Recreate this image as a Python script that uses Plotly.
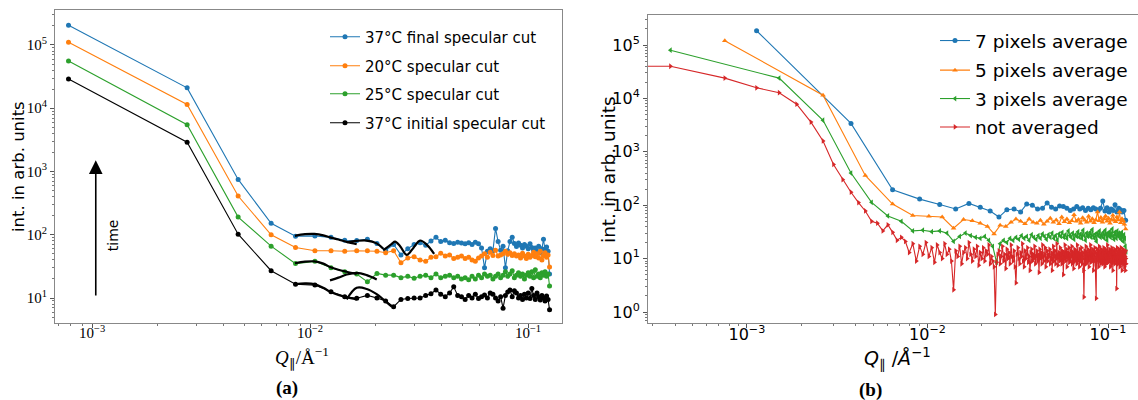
import numpy as np
import plotly.graph_objects as go

W, H = 1138, 400
SERIF = "Liberation Serif"
SANS = "DejaVu Sans"

# ---------------- panel (a) data ----------------
Q_LEFT = [0.00078, 0.00273, 0.00468, 0.00663, 0.00858, 0.01053, 0.01248, 0.01443, 0.01638, 0.01833,
          0.02028, 0.02223, 0.02418, 0.02613, 0.02808, 0.03003, 0.03198, 0.03393, 0.03588, 0.03783,
          0.03978, 0.04173, 0.04368, 0.04563, 0.04758, 0.04953, 0.05148, 0.05343, 0.05538, 0.05733,
          0.05928, 0.06123, 0.06318, 0.06513, 0.06708, 0.06903, 0.07098, 0.07293, 0.07488, 0.07683,
          0.07878, 0.08073, 0.08268, 0.08463, 0.08658, 0.08853, 0.09048, 0.09243, 0.09438, 0.09633,
          0.09828, 0.10023, 0.10218, 0.10413, 0.10608, 0.10803, 0.10998, 0.11193, 0.11388, 0.11583,
          0.11778, 0.11973, 0.12168, 0.12363, 0.12558]

A_FINAL37 = [2.05e5, 2.1e4, 750, 152, 95, 96, 91, 82, 81, 85, 73, 57, 70, 48, 60, 70, 75, 68, 80,
             91, 78, 82, 75, 73, 76, 74, 72, 75, 70, 76, 72, 62, 30, 55, 60, 56, 126, 78, 57,
             66, 30, 56, 78, 91, 73, 65, 74, 68, 62, 70, 66, 60, 72, 63, 57, 62, 55, 66, 52,
             60, 85, 58, 64, 55, 24]
A_20 = [1.1e5, 1.15e4, 410, 100, 63, 56, 56, 55, 56, 56, 55, 52, 56, 36, 43, 45, 40, 38, 44,
        45, 51, 46, 48, 42, 44, 46, 42, 44, 40, 38, 43, 46, 50, 44, 53, 47, 57, 46, 48,
        50, 55, 49, 52, 47, 50, 46, 48, 43, 51, 46, 42, 49, 44, 47, 53, 45, 50, 43, 55,
        40, 47, 52, 44, 48, 31]
A_25 = [5.6e4, 5.5e3, 190, 66, 35, 38, 30, 26, 24, 18, 24.5, 23, 23, 21, 22, 20.5, 22, 23, 21,
        24, 21, 22, 23, 21, 22, 20, 21, 19.5, 22, 20, 23, 21, 24, 22, 23, 20, 22, 24, 21,
        23, 26, 22, 24, 27, 21, 23, 25, 22, 24, 20, 23, 25, 22, 26, 21, 28, 22, 24, 21,
        25, 23, 26, 22, 24, 15.5]
A_INIT37 = [2.9e4, 2.9e3, 102, 27, 16.5, 16, 12.6, 10.5, 9.9, 11, 10, 9, 7.3, 9.5, 9.8, 10, 10, 11, 11.7,
            13.4, 11.5, 10.5, 12, 15, 11, 10.5, 9.5, 11, 10, 11.5, 9.8, 10.5, 11.2, 10, 12, 11.5, 10,
            9, 10.5, 6.9, 11, 12.5, 13.4, 10.5, 13, 12, 10, 11, 9.5, 11.5, 10, 12, 9.8, 14.2, 11,
            9.5, 12, 10.5, 9.3, 11, 10, 9, 10.8, 9.5, 6.5]

A_LABELS = ["37°C final specular cut", "20°C specular cut", "25°C specular cut", "37°C initial specular cut"]

# fitted curves (thick black) in panel (a)
FIT_Q = [
    [0.00853, 0.00948, 0.01047, 0.01151, 0.01235, 0.01349, 0.01473, 0.01637],
    [0.01473, 0.01637, 0.0182, 0.02023, 0.02168],
    [0.02168, 0.02372, 0.02455, 0.0259, 0.0278, 0.0298, 0.03198, 0.0343, 0.0371],
    [0.00853, 0.00948, 0.01047, 0.01151, 0.01235, 0.01349, 0.01473, 0.01637],
    [0.01235, 0.01349, 0.01473, 0.01637, 0.0182, 0.02023],
    [0.00853, 0.00948, 0.01047, 0.01151, 0.01235, 0.01349, 0.01473, 0.01637],
    [0.01473, 0.01637, 0.0182, 0.02023, 0.02168, 0.02372],
]
FIT_I = [
    [96, 102, 103, 98, 91, 84, 77, 71],
    [76, 80, 81, 73, 60],
    [57, 72, 78, 66, 48, 62, 81, 70, 50],
    [35.4, 37.6, 38, 35, 31, 28, 26, 24],
    [19, 21, 23.5, 25, 23, 19.7],
    [16.4, 17, 16.6, 14.5, 12.6, 11.2, 10.3, 9.5],
    [9.5, 14.5, 13.9, 11.5, 9.5, 7.3],
]

ARROW_Q = 1.04e-3
ARROW_FROM = 10.4
ARROW_TO = 1.5e3
TIME_Q = 1.25e-3
TIME_I = 99

# ---------------- panel (b) data ----------------
# detector pixel positions in 1e-3 1/Angstrom (pixel 1..334)
PIXEL_Q_MILLI = [
    0.377, 0.754, 1.131, 1.508, 1.885, 2.262, 2.639, 3.016, 3.393, 3.77,
    4.147, 4.524, 4.901, 5.278, 5.655, 6.032, 6.409, 6.786, 7.163, 7.54,
    7.917, 8.294, 8.671, 9.048, 9.425, 9.802, 10.179, 10.556, 10.933, 11.31,
    11.687, 12.064, 12.441, 12.818, 13.195, 13.572, 13.949, 14.326, 14.703, 15.08,
    15.457, 15.834, 16.211, 16.588, 16.965, 17.342, 17.719, 18.096, 18.473, 18.85,
    19.227, 19.604, 19.981, 20.358, 20.735, 21.112, 21.489, 21.866, 22.243, 22.62,
    22.997, 23.374, 23.751, 24.128, 24.505, 24.882, 25.259, 25.636, 26.013, 26.39,
    26.767, 27.144, 27.521, 27.898, 28.275, 28.652, 29.029, 29.406, 29.783, 30.16,
    30.537, 30.914, 31.291, 31.668, 32.045, 32.422, 32.799, 33.176, 33.553, 33.93,
    34.307, 34.684, 35.061, 35.438, 35.815, 36.192, 36.569, 36.946, 37.323, 37.7,
    38.077, 38.454, 38.831, 39.208, 39.585, 39.962, 40.339, 40.716, 41.093, 41.47,
    41.847, 42.224, 42.601, 42.978, 43.355, 43.732, 44.109, 44.486, 44.863, 45.24,
    45.617, 45.994, 46.371, 46.748, 47.125, 47.502, 47.879, 48.256, 48.633, 49.01,
    49.387, 49.764, 50.141, 50.518, 50.895, 51.272, 51.649, 52.026, 52.403, 52.78,
    53.157, 53.534, 53.911, 54.288, 54.665, 55.042, 55.419, 55.796, 56.173, 56.55,
    56.927, 57.304, 57.681, 58.058, 58.435, 58.812, 59.189, 59.566, 59.943, 60.32,
    60.697, 61.074, 61.451, 61.828, 62.205, 62.582, 62.959, 63.336, 63.713, 64.09,
    64.467, 64.844, 65.221, 65.598, 65.975, 66.352, 66.729, 67.106, 67.483, 67.86,
    68.237, 68.614, 68.991, 69.368, 69.745, 70.122, 70.499, 70.876, 71.253, 71.63,
    72.007, 72.384, 72.761, 73.138, 73.515, 73.892, 74.269, 74.646, 75.023, 75.4,
    75.777, 76.154, 76.531, 76.908, 77.285, 77.662, 78.039, 78.416, 78.793, 79.17,
    79.547, 79.924, 80.301, 80.678, 81.055, 81.432, 81.809, 82.186, 82.563, 82.94,
    83.317, 83.694, 84.071, 84.448, 84.825, 85.202, 85.579, 85.956, 86.333, 86.71,
    87.087, 87.464, 87.841, 88.218, 88.595, 88.972, 89.349, 89.726, 90.103, 90.48,
    90.857, 91.234, 91.611, 91.988, 92.365, 92.742, 93.119, 93.496, 93.873, 94.25,
    94.627, 95.004, 95.381, 95.758, 96.135, 96.512, 96.889, 97.266, 97.643, 98.02,
    98.397, 98.774, 99.151, 99.528, 99.905, 100.282, 100.659, 101.036, 101.413, 101.79,
    102.167, 102.544, 102.921, 103.298, 103.675, 104.052, 104.429, 104.806, 105.183, 105.56,
    105.937, 106.314, 106.691, 107.068, 107.445, 107.822, 108.199, 108.576, 108.953, 109.33,
    109.707, 110.084, 110.461, 110.838, 111.215, 111.592, 111.969, 112.346, 112.723, 113.1,
    113.477, 113.854, 114.231, 114.608, 114.985, 115.362, 115.739, 116.116, 116.493, 116.87,
    117.247, 117.624, 118.001, 118.378, 118.755, 119.132, 119.509, 119.886, 120.263, 120.64,
    121.017, 121.394, 121.771, 122.148, 122.525, 122.902, 123.279, 123.656, 124.033, 124.41,
    124.787, 125.164, 125.541, 125.918]

# pixel 0 (specular, Q->0, lies left of the axis)
RED_Q0 = 1e-4
RED_I0 = 4.0e4

B_NOT_AVG = [
    40000, 24000, 15800, 12800, 7800, 3600, 1600, 580, 300, 175, 112, 78, 50, 46, 33, 43, 31, 22, 25, 21, 13,
    19, 9, 17, 12, 20, 11, 16, 8.5, 18, 13, 10, 19, 12, 15, 9, 2.6, 14, 11, 17, 8, 13, 16, 10, 20,
    12, 9, 15, 11, 17, 7.5, 13, 10, 16, 9, 14, 12, 18, 8, 11,
    9, 7, 0.9, 8.5, 12,
    14, 8, 11, 17, 9, 12, 6.5, 15, 10, 13, 8, 18, 11, 9, 14, 7, 3.5, 12, 16, 10,
    8, 13, 11, 19, 9, 7, 14, 10, 12, 16, 8.5, 11, 6, 13, 15, 9, 12, 10, 17, 8,
    11, 14, 9, 12, 5.5, 15, 10, 13, 8, 18, 11, 9, 12, 16, 7, 10, 14, 9, 12, 11,
    15, 8, 10, 13, 6, 12, 17, 9, 11, 14, 8, 10, 19, 12, 7.5, 11, 13, 9, 16, 10,
    12, 8, 14, 11, 5, 13, 10, 18, 9, 12, 15, 7, 11, 13, 10, 16, 8.5, 12, 9, 14,
    11, 17, 8, 10, 13, 6.5, 12, 15, 9, 11, 14, 10, 8, 18, 12, 9, 13, 11, 7, 15,
    10, 12, 9, 16, 11, 8, 13, 10, 6, 1.9, 12, 14, 9, 11, 17, 8, 13, 10, 12, 15,
    9, 11, 7, 14, 12, 10, 18, 8.5, 13, 11, 9, 15, 10, 12, 6, 14, 11, 9, 16, 10,
    13, 8, 1.8, 12, 11, 15, 9, 10, 14, 7, 12, 17, 9, 11, 13, 8, 10, 15, 12, 9,
    11, 14, 8, 12, 10, 16, 9, 13, 7, 11, 15, 10, 12, 8, 14, 11, 9, 18, 10, 12,
    8.5, 13, 11, 9, 15, 10, 12, 7, 14, 11, 9, 13, 16, 8, 10, 12, 6, 14, 11, 9,
    13, 10, 15, 8, 12, 11, 9, 14, 10, 12, 2.75, 11, 16, 9, 13, 10, 8, 12, 15, 9,
    11, 13, 7, 10, 14, 9, 12, 16, 8, 11, 13, 6, 10, 12, 15, 9, 11, 8, 14, 10,
    12, 7, 13, 9, 11, 6, 14, 10, 8]
B_AVG3 = [8.0e4, 2.4e4, 3.9e3, 400, 113, 63, 50, 33, 34, 32, 33, 30, 21, 26, 30, 27, 25, 24, 26, 22, 17, 8.5,
          19, 22, 20, 24, 22, 25, 23, 27, 24, 26, 22, 28, 25, 23, 27, 24, 29, 26, 23, 28,
          25, 30, 24, 27, 22, 29, 26, 31, 25, 28, 24, 33, 27, 25, 30, 23, 28, 26, 32, 25,
          29, 24, 34, 27, 22, 30, 26, 28, 31, 25, 35, 27, 24, 29, 21, 30, 27, 33, 25, 28,
          26, 31, 24, 34, 28, 22, 30, 27, 32, 25, 29, 36, 26, 23, 31, 28, 24, 33, 27, 30,
          25, 29, 23, 31, 26, 21, 28, 24, 17, 13.5]
B_AVG5 = [1.2e5, 1.15e4, 360, 105, 64, 62, 60, 37, 54, 51, 46, 40, 29, 42, 40, 48, 55, 50, 45, 55, 48,
          46, 52, 44, 50, 57, 48, 53, 45, 60, 49, 55, 47, 51, 66, 50, 54, 46, 58, 52, 48,
          62, 50, 56, 47, 53, 75, 51, 59, 48, 55, 63, 50, 57, 46, 54, 65, 52, 49, 60, 53,
          75, 47, 56, 51, 44, 36]
B_AVG7 = [1.85e5, 3.4e3, 195, 130, 103, 85, 108, 92, 78, 60, 82,
          85, 75, 105, 100, 85, 88, 110, 92, 85, 97, 95, 88, 80, 85, 95, 85, 90, 80, 88, 82,
          90, 85, 80, 88, 120, 78, 90, 75, 85, 80, 102, 75, 88, 82, 75, 80, 52]

B_LABELS = ["7 pixels average", "5 pixels average", "3 pixels average", "not averaged"]

pixel_q = [q * 1e-3 for q in PIXEL_Q_MILLI]
red_q = [RED_Q0] + pixel_q
red_i = [RED_I0] + B_NOT_AVG
avg3_q = pixel_q[0::3]
avg5_q = pixel_q[1::5]
avg7_q = pixel_q[2::7]

for a, b in [(Q_LEFT, A_FINAL37), (Q_LEFT, A_20), (Q_LEFT, A_25), (Q_LEFT, A_INIT37),
             (pixel_q, B_NOT_AVG), (avg3_q, B_AVG3), (avg5_q, B_AVG5), (avg7_q, B_AVG7)]:
    assert len(a) == len(b), (len(a), len(b))

BLUE, ORANGE, GREEN, RED = "#1f77b4", "#ff7f0e", "#2ca02c", "#d62728"

fig = go.Figure()

# panel (a)
for i, (vals, col) in enumerate(zip([A_FINAL37, A_20, A_25, A_INIT37], [BLUE, ORANGE, GREEN, "black"])):
    fig.add_trace(go.Scatter(
        x=Q_LEFT, y=vals, mode="lines+markers", name=A_LABELS[i],
        line=dict(color=col, width=1.1), marker=dict(color=col, size=5, symbol="circle"),
        xaxis="x", yaxis="y", legend="legend" if i == 0 else f"legend{i+1}"))
for fq, fi in zip(FIT_Q, FIT_I):
    fig.add_trace(go.Scatter(x=fq, y=fi, mode="lines", line=dict(color="black", width=2.2, shape="spline"),
                             showlegend=False, hoverinfo="skip", xaxis="x", yaxis="y"))

# panel (b)
b_series = [(avg7_q, B_AVG7, BLUE, "circle", 5), (avg5_q, B_AVG5, ORANGE, "triangle-up", 5),
            (avg3_q, B_AVG3, GREEN, "triangle-left", 5), (red_q, red_i, RED, "triangle-right", 5)]
for i, (qx, vals, col, sym, ms) in enumerate(b_series):
    fig.add_trace(go.Scatter(
        x=qx, y=vals, mode="lines+markers", name=B_LABELS[i],
        line=dict(color=col, width=1.1), marker=dict(color=col, size=ms, symbol=sym),
        xaxis="x2", yaxis="y2", legend=f"legend{i+5}"))


def leg(x_px, y_px, size):
    return dict(x=x_px / W, y=1 - y_px / H, xanchor="left", yanchor="middle",
                bgcolor="rgba(0,0,0,0)", borderwidth=0, itemclick=False,
                font=dict(family=SANS, size=size, color="black"))


def sup_label(e):
    return "10<sup>" + (("\u2212" + str(-e)) if e < 0 else str(e)) + "</sup>"


def minor_vals(lo, hi):
    out = []
    for k in range(lo, hi + 1):
        for m in range(2, 10):
            out.append(m * 10.0 ** k)
    return out


axis_common = dict(type="log", showline=True, linecolor="#888888", linewidth=1, ticks="outside",
                   ticklen=4, tickcolor="#555555", showgrid=False, zeroline=False, tickmode="array")

layout = dict(
    width=W, height=H, margin=dict(l=0, r=0, t=0, b=0, autoexpand=False),
    paper_bgcolor="white", plot_bgcolor="white", showlegend=True,
    xaxis=dict(axis_common, domain=[55 / W, 562 / W], range=[-3.17, -0.844], anchor="y", mirror=True,
               tickvals=[1e-3, 1e-2, 1e-1], ticktext=[sup_label(e) for e in (-3, -2, -1)],
               tickfont=dict(family=SERIF, size=15, color="black"), ticklabelstandoff=-8,
               minor=dict(ticks="outside", ticklen=2, tickcolor="#777777", tickvals=minor_vals(-4, -1))),
    yaxis=dict(axis_common, domain=[1 - 323 / H, 1 - 10 / H], range=[0.605, 5.553], anchor="x", mirror=True,
               tickvals=[10 ** e for e in range(1, 6)], ticktext=[sup_label(e) for e in range(1, 6)],
               tickfont=dict(family=SERIF, size=15, color="black"),
               minor=dict(ticks="outside", ticklen=2, tickcolor="#777777", tickvals=minor_vals(0, 5))),
    xaxis2=dict(axis_common, domain=[648 / W, 1.0], range=[-3.548, -0.834], anchor="y2", mirror=True,
                tickvals=[1e-3, 1e-2, 1e-1], ticktext=[sup_label(e) for e in (-3, -2, -1)],
                tickfont=dict(family=SANS, size=16, color="black"), ticklabelstandoff=-7,
                minor=dict(ticks="outside", ticklen=2, tickcolor="#777777", tickvals=minor_vals(-4, -1))),
    yaxis2=dict(axis_common, domain=[1 - 323 / H, 1 - 15 / H], range=[-0.206, 5.562], anchor="x2",
                tickvals=[10 ** e for e in range(0, 6)], ticktext=[sup_label(e) for e in range(0, 6)],
                tickfont=dict(family=SANS, size=16, color="black"),
                minor=dict(ticks="outside", ticklen=2, tickcolor="#777777", tickvals=minor_vals(-1, 5))),
    legend=leg(325, 37, 15), legend2=leg(325, 66, 15), legend3=leg(325, 94, 15), legend4=leg(325, 123, 15),
    legend5=leg(935, 41, 18.5), legend6=leg(935, 70.6, 18.5), legend7=leg(935, 99, 18.5), legend8=leg(935, 127.4, 18.5),
)
fig.update_layout(**layout)

ann = [
    dict(x=np.log10(ARROW_Q), y=np.log10(ARROW_TO), ax=np.log10(ARROW_Q), ay=np.log10(ARROW_FROM),
         xref="x", yref="y", axref="x", ayref="y", showarrow=True, arrowhead=2, arrowsize=1.7,
         arrowwidth=1.6, arrowcolor="black", text=""),
    dict(x=np.log10(TIME_Q), y=np.log10(TIME_I), xref="x", yref="y", text="time", showarrow=False,
         textangle=-90, xanchor="center", yanchor="middle", font=dict(family=SANS, size=14, color="black")),
    dict(x=18.5 / W, y=1 - 166.5 / H, xref="paper", yref="paper", text="int. in arb. units", showarrow=False,
         textangle=-90, xanchor="center", yanchor="middle", font=dict(family=SANS, size=16.5, color="black")),
    dict(x=608 / W, y=1 - 170 / H, xref="paper", yref="paper", text="int. in arb. units", showarrow=False,
         textangle=-90, xanchor="center", yanchor="middle", font=dict(family=SANS, size=18.5, color="black")),
    dict(x=302 / W, y=1 - 357 / H, xref="paper", yref="paper", xanchor="center", yanchor="middle",
         text="<i>Q</i><sub>\u2225</sub>/Å<sup>\u22121</sup>", showarrow=False,
         font=dict(family=SERIF, size=19, color="black")),
    dict(x=897 / W, y=1 - 358 / H, xref="paper", yref="paper", xanchor="center", yanchor="middle",
         text="<i>Q</i><sub>\u2225</sub> /<i>Å</i><sup>\u22121</sup>", showarrow=False,
         font=dict(family=SANS, size=19, color="black")),
    dict(x=287 / W, y=1 - 388 / H, xref="paper", yref="paper", text="<b>(a)</b>", showarrow=False,
         xanchor="center", yanchor="middle", font=dict(family=SERIF, size=19, color="black")),
    dict(x=870 / W, y=1 - 390 / H, xref="paper", yref="paper", text="<b>(b)</b>", showarrow=False,
         xanchor="center", yanchor="middle", font=dict(family=SERIF, size=19, color="black")),
]
fig.update_layout(annotations=ann)

fig.write_html("out.html", config={"displayModeBar": False},
               post_script="document.body.style.margin='0px';document.body.style.overflow='hidden';")
